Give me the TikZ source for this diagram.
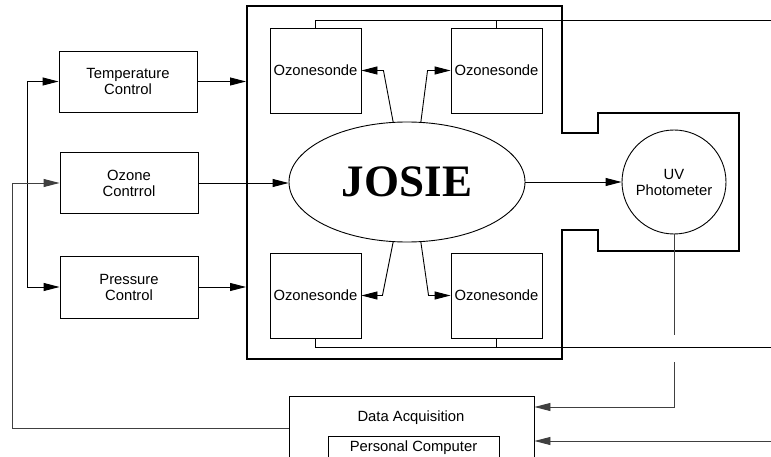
\documentclass[tikz,border=0pt]{standalone}
\usepackage{fontspec}
\setmainfont{Liberation Sans}
\newfontfamily\josiefont{Liberation Serif}
\usetikzlibrary{arrows.meta,shapes.geometric}
\begin{document}
\begin{tikzpicture}[x=1pt,y=-1pt,
  lbl/.style={font=\fontsize{14.8}{16}\selectfont, align=center},
  blk/.style={draw, line width=0.9pt, inner sep=0pt, lbl},
  sonde/.style={blk, minimum width=91pt, minimum height=85pt},
  ctrl/.style={blk, minimum width=138pt, minimum height=61pt},
  wire/.style={line width=0.9pt},
  gwire/.style={line width=0.9pt, draw=black!75},
  arr/.style={wire, -{Triangle[length=16pt,width=8pt]}},
  garr/.style={gwire, -{Triangle[length=16pt,width=8pt]}},
  outline/.style={line width=2.4pt, line join=miter}]
\clip (0,0) rectangle (771,457);
\fill[white] (0,0) rectangle (771,457);

% left control boxes
\node[ctrl] (temp) at (128,81.5) {Temperature\\Control};
\node[ctrl] (ozone) at (129,183) {Ozone\\Contrrol};
\node[ctrl, minimum height=62pt] (press) at (129,287) {Pressure\\Control};

% chamber outline
\draw[outline] (247,6) -- (562,6) -- (562,133) -- (598,133) -- (598,113) -- (739,113)
  -- (739,251) -- (598,251) -- (598,230) -- (562,230) -- (562,359) -- (247,359) -- cycle;
\coordinate (edgeL) at (246,0);

% ozonesondes
\node[sonde] (s1) at (315.5,70.5) {Ozonesonde};
\node[sonde] (s2) at (496.5,70.5) {Ozonesonde};
\node[sonde] (s3) at (315.5,295.5) {Ozonesonde};
\node[sonde] (s4) at (496.5,295.5) {Ozonesonde};

% JOSIE
\node[draw, ellipse, line width=0.9pt, minimum width=236pt, minimum height=120pt, inner sep=0pt]
  (josie) at (407,182) {\josiefont\bfseries\fontsize{45}{45}\selectfont JOSIE};

% UV photometer
\node[draw, circle, line width=0.9pt, minimum size=104pt, inner sep=0pt, lbl]
  (uv) at (674,182) {UV\\Photometer};

% data acquisition
\node[draw, line width=0.9pt, minimum width=245pt, minimum height=64pt, inner sep=0pt]
  (daq) at (411.5,428) {};
\node[lbl] (daqt) at (411,418) {Data Acquisition};
\node[blk, minimum width=171pt, minimum height=24pt] (pc) at (413.5,448) {Personal Computer};

% left bus
\coordinate (busA) at (27,0);
\draw[wire] (busA |- temp) -- (busA |- press);
\draw[arr] (busA |- temp) -- (temp.west);
\draw[arr] (busA |- press) -- (press.west);

% feedback from data acquisition
\coordinate (fb) at (12,0);
\draw[garr] (daq.west) -| (fb |- ozone) -- (ozone.west);

% controls into chamber
\draw[arr] (temp.east) -- (temp.east -| edgeL);
\draw[arr] (press.east) -- (press.east -| edgeL);
\draw[arr] (ozone.east) -- (ozone.east -| josie.west);

% JOSIE to UV
\draw[arr] (josie.east) -- (uv.west);

% JOSIE to sondes
\draw[arr] (josie.103) -- ([xshift=22pt]s1.east) -- (s1.east);
\draw[arr] (josie.77) -- ([xshift=-23pt]s2.west) -- (s2.west);
\draw[arr] (josie.257) -- ([xshift=21pt]s3.east) -- (s3.east);
\draw[arr] (josie.283) -- ([xshift=-22pt]s4.west) -- (s4.west);

% sonde buses
\coordinate (topR) at (771,20);
\draw[wire] (s1.north) |- (topR);
\draw[wire] (s2.north) -- (s2.north |- topR);
\coordinate (botR) at (771,347);
\draw[wire] (s3.south) |- (botR);
\draw[wire] (s4.south) -- (s4.south |- botR);

% UV to data acquisition
\coordinate (uvA) at (674,335);
\coordinate (uvB) at (674,362);
\draw[gwire] (uv.south) -- (uvA);
\draw[garr] (uvB) |- ([yshift=21pt]daq.east);
\coordinate (inR) at (771,441);
\draw[garr] (inR) -- (inR -| daq.east);
\end{tikzpicture}
\end{document}
